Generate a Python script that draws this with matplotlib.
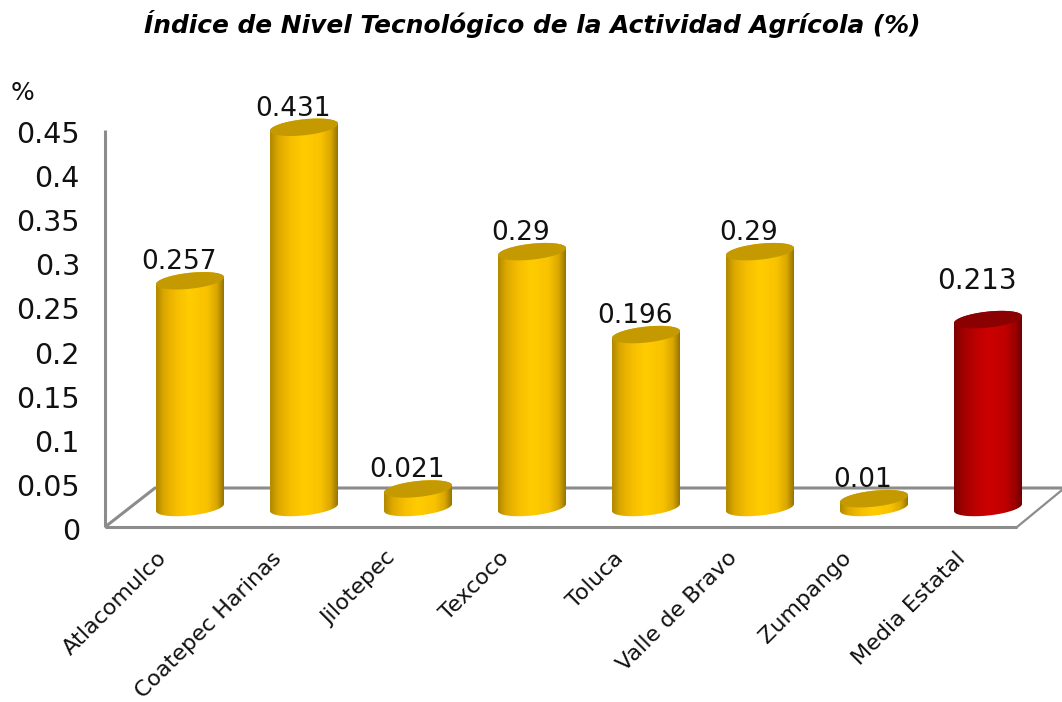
import numpy as np
import matplotlib
matplotlib.use('Agg')
import matplotlib.pyplot as plt
from matplotlib.colors import LinearSegmentedColormap
from matplotlib.path import Path
from matplotlib.patches import PathPatch
from matplotlib.transforms import ScaledTranslation

# data
municipios = ['Atlacomulco', 'Coatepec Harinas', 'Jilotepec', 'Texcoco', 'Toluca',
              'Valle de Bravo', 'Zumpango', 'Media Estatal']
valores = [0.257, 0.431, 0.021, 0.29, 0.196, 0.29, 0.01, 0.213]
etiquetas = ['0.257', '0.431', '0.021', '0.29', '0.196', '0.29', '0.01', '0.213']
y_ticks = [0, 0.05, 0.1, 0.15, 0.2, 0.25, 0.3, 0.35, 0.4, 0.45]
y_tick_labels = ['0', '0.05', '0.1', '0.15', '0.2', '0.25', '0.3', '0.35', '0.4', '0.45']

W, H = 1062, 702
plt.rcParams['font.family'] = 'DejaVu Sans'

fig = plt.figure(figsize=(W / 100, H / 100), dpi=100)
ax = fig.add_axes([105 / W, 1 - 527 / H, 912 / W, 397 / H])

# one pixel in data units
PX = 8 / 912
PY = 0.45 / 397

gold = LinearSegmentedColormap.from_list('gold', [(0, '#b08800'), (0.12, '#dca800'), (0.3, '#f6be00'),
                                                  (0.5, '#ffcc00'), (0.75, '#f8c200'), (0.9, '#d8a600'),
                                                  (1, '#957300')])
red = LinearSegmentedColormap.from_list('red', [(0, '#7c0000'), (0.15, '#a40000'), (0.35, '#c00000'),
                                                (0.5, '#cc0000'), (0.75, '#c00000'), (0.9, '#9c0000'),
                                                (1, '#6e0000')])
grad = np.linspace(0, 1, 256).reshape(1, -1)


def ellipse(cx, cy, t):
    # tilted ellipse of the cylinder caps, left side lower than right
    return np.column_stack([cx + 34 * PX * np.cos(t),
                            cy + (3.5 * np.cos(t) + 8 * np.sin(t)) * PY])


def cylinder(x, v, cmap, top_color):
    base = 19.5 * PY
    # body outline: over the top from right to left, then along the bottom back to the right
    top = ellipse(x, base + v, np.linspace(0, np.pi, 60))
    bottom = ellipse(x, base, np.linspace(np.pi, 2 * np.pi, 60))
    verts = np.vstack([top, bottom, top[:1]])
    body = PathPatch(Path(verts), transform=ax.transData, fc='none', ec='none', clip_on=False)
    ax.add_patch(body)
    im = ax.imshow(grad, cmap=cmap, aspect='auto', zorder=3,
                   extent=[x - 34 * PX, x + 34 * PX, 0, 0.5])
    im.set_clip_box(fig.bbox)
    im.set_clip_path(body)
    cap = ellipse(x, base + v, np.linspace(0, 2 * np.pi, 120))
    ax.fill(cap[:, 0], cap[:, 1], color=top_color, lw=0, zorder=4, clip_on=False)


x_pos = np.arange(len(valores)) + 0.5 + 28 * PX
for i, (x, v) in enumerate(zip(x_pos, valores)):
    if municipios[i] == 'Media Estatal':
        cylinder(x, v, red, '#8b0000')
    else:
        cylinder(x, v, gold, '#c49a00')

for i, (x, v, s) in enumerate(zip(x_pos, valores, etiquetas)):
    last = municipios[i] == 'Media Estatal'
    dy = 40 if last else 20
    ax.annotate(s, (x, v + 18 * PY), xytext=(-11 * 0.72, dy * 0.72), textcoords='offset points',
                ha='center', va='center', fontsize=20 if last else 19, color='#111111', zorder=5,
                annotation_clip=False)

# floor and wall lines of the 3D frame
line = dict(color='#8c8c8c', lw=2.2, clip_on=False, solid_capstyle='butt', zorder=1)
dx, dy = 50 * PX, 39 * PY
ax.plot([0, dx, 8 + 45 * PX], [0, dy, dy], **line)
ax.plot([8, 8 + 45 * PX], [0, 37 * PY], color='#8c8c8c', lw=1.6, clip_on=False, zorder=1)
ax.plot([0, 8], [0, 0], **line)
ax.plot([0, 0], [0, 0.45], **line)

ax.set_xlim(0, 8)
ax.set_ylim(0, 0.45)
for s in ax.spines.values():
    s.set_visible(False)
ax.patch.set_visible(False)

ax.set_yticks(y_ticks)
ax.set_yticklabels(y_tick_labels, fontsize=20.5, color='#111111')
ax.tick_params(axis='y', length=0, pad=18)
for lbl in ax.get_yticklabels():
    lbl.set_transform(lbl.get_transform() + ScaledTranslation(0, -2 / 100, fig.dpi_scale_trans))

ax.set_xticks(np.arange(len(valores)) + 0.5)
ax.set_xticklabels(municipios, fontsize=16, rotation=45, ha='right', rotation_mode='anchor',
                   color='#111111')
ax.tick_params(axis='x', length=0, pad=15)
for lbl in ax.get_xticklabels():
    lbl.set_transform(lbl.get_transform() + ScaledTranslation(-5 / 100, 0, fig.dpi_scale_trans))

fig.text(23 / W, 1 - 93 / H, '%', fontsize=18, ha='center', va='center', color='#111111')
fig.text(532 / W, 1 - 24 / H, 'Índice de Nivel Tecnológico de la Actividad Agrícola (%)',
         fontsize=17.9, fontweight='bold', style='italic', ha='center', va='center', color='black')

plt.savefig('out.png', dpi=100)
